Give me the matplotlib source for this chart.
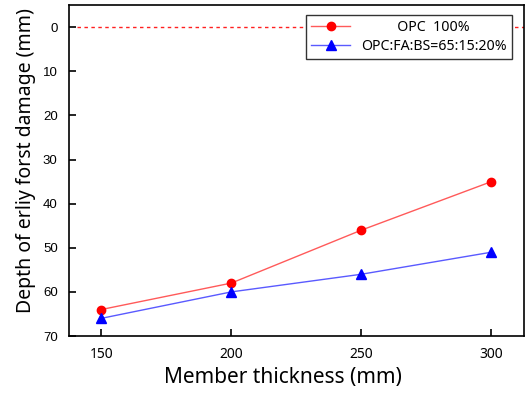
import matplotlib
import matplotlib.pyplot as plt

matplotlib.use("Agg")

thickness = [150, 200, 250, 300]
opc_100 = [64, 58, 46, 35]
opc_fa_bs = [66, 60, 56, 51]
label_opc = "OPC  100%"
label_mix = "OPC:FA:BS=65:15:20%"

LEG_FONT = {"family": "Noto Sans", "size": 10.2}

fig = plt.figure(figsize=(5.25, 3.96), dpi=100)
ax = fig.add_axes([0.131, 0.1515, 0.867, 0.8355])


def centre_pad(short, long):
    # pad the short legend label with spaces so it sits centred over the long one
    r = fig.canvas.get_renderer()
    w = lambda s: fig.text(0, 0, s, fontdict=LEG_FONT).get_window_extent(r).width
    t = [w(short), w(long), w(" " * 10)]
    for txt in fig.texts[:]:
        txt.remove()
    n = int(round((t[1] - t[0]) / 2 / (t[2] / 10)))
    return " " * n + short


ax.plot(thickness, opc_100, color="#ff5a5a", lw=1.0, marker="o", ms=6,
        mfc="red", mec="red", label=centre_pad(label_opc, label_mix))
ax.plot(thickness, opc_fa_bs, color="#5a5aff", lw=1.0, marker="^", ms=7,
        mfc="blue", mec="blue", label=label_mix)
ax.hlines(0, 140.5, 312.5, color="#ff2020", lw=1.0, ls=(0, (2.5, 2.5)),
          zorder=1)

ax.set_xlim(137.5, 312.5)
ax.set_ylim(70, -5)
ax.set_xticks(thickness)
ax.set_yticks(range(0, 71, 10))
ax.tick_params(direction="in", length=5, width=1.2)
for t in ax.get_yticklabels():
    t.set_fontfamily("Liberation Sans")
    t.set_fontsize(9.5)
for t in ax.get_xticklabels():
    t.set_fontfamily("Noto Sans")
    t.set_fontsize(10)
ax.tick_params(axis="x", pad=8)
ax.tick_params(axis="y", pad=8)
for s in ax.spines.values():
    s.set_linewidth(1.2)

ax.set_xlabel("Member thickness (mm)", fontfamily="Noto Sans", fontsize=15,
              labelpad=6)
ax.xaxis.set_label_coords(0.471, -0.095)
ax.set_ylabel("Depth of erliy forst damage (mm)", fontfamily="Noto Sans",
              fontsize=14, labelpad=6)
ax.yaxis.set_label_coords(-0.0725, 0.53)

leg = ax.legend(loc="upper right", bbox_to_anchor=(0.9736, 0.9698),
                borderaxespad=0, prop=LEG_FONT, fancybox=False,
                edgecolor="#333333", framealpha=1, handlelength=2.75,
                borderpad=0.35, labelspacing=0.3, handletextpad=0.8)
leg.get_frame().set_linewidth(1.0)

fig.savefig("out.png", dpi=100)
